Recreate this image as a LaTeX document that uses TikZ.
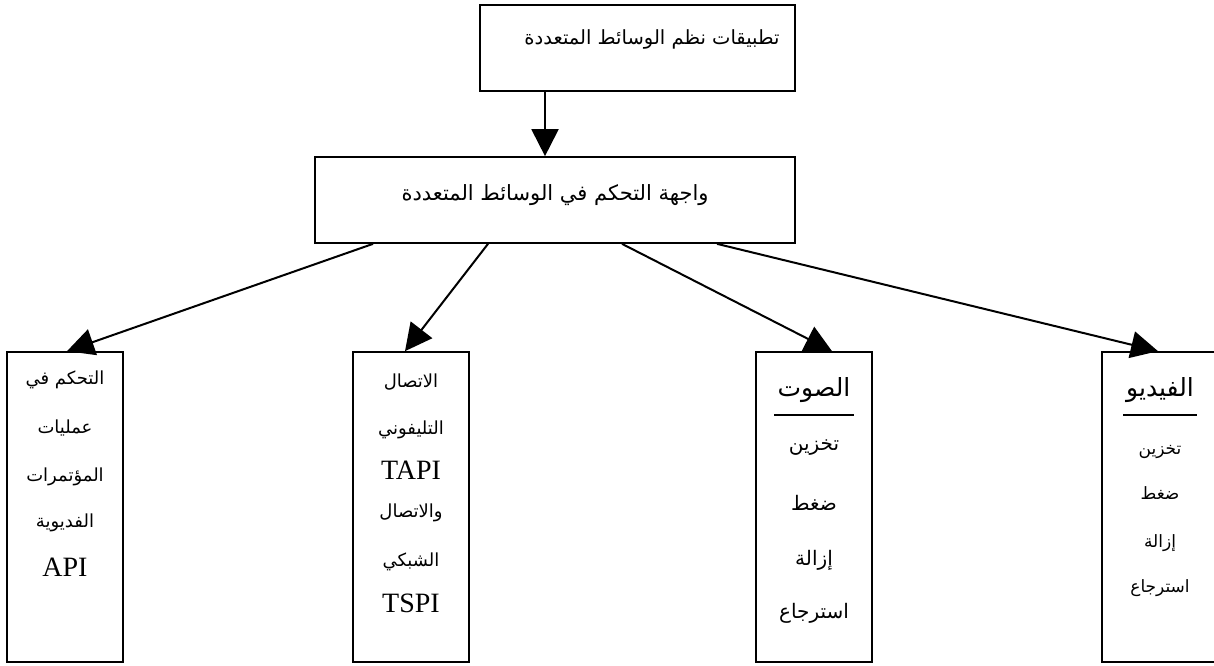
\documentclass[tikz,border=0pt]{standalone}
\usepackage{fontspec}
\setmainfont{Liberation Serif}
\newfontfamily\arabicfont[Script=Arabic]{DejaVu Sans}
\TeXXeTstate=1
\usetikzlibrary{arrows.meta}
\newcommand{\artx}[1]{{\arabicfont\beginR #1\endR}}
\begin{document}
\begin{tikzpicture}[x=1pt,y=-1pt,
  box/.style={draw, line width=1.7pt, inner sep=0pt, rectangle},
  conn/.style={line width=2pt, -{Triangle[length=27pt,width=27pt]}},
  txt/.style={inner sep=0pt, anchor=center},
  big/.style={txt, font=\fontsize{21}{24}\selectfont},
  topf/.style={txt, font=\fontsize{19.5}{23}\selectfont},
  head/.style={txt, font=\fontsize{25}{28}\selectfont},
  sza/.style={txt, font=\fontsize{18}{21}\selectfont},
  szb/.style={txt, font=\fontsize{18}{21}\selectfont},
  szc/.style={txt, font=\fontsize{20}{23}\selectfont},
  szd/.style={txt, font=\fontsize{17}{20}\selectfont},
  lat/.style={txt, font=\fontsize{28}{31}\selectfont}]
\useasboundingbox (0,0) rectangle (1214,665);
\clip (0,0) rectangle (1214,665);
% boxes
\node[box, minimum width=315pt, minimum height=86pt] (top) at (637.5,48) {};
\node[box, minimum width=480pt, minimum height=86pt] (mid) at (555,200) {};
\node[box, minimum width=116pt, minimum height=310pt] (b1) at (65,507) {};
\node[box, minimum width=116pt, minimum height=310pt] (b2) at (411,507) {};
\node[box, minimum width=116pt, minimum height=310pt] (b3) at (814,507) {};
\node[box, minimum width=116pt, minimum height=310pt] (b4) at (1160,507) {};
% texts
\node[topf] (ttop) at (652,39) {\artx{تطبيقات نظم الوسائط المتعددة}};
\node[big] (tmid) at (555,195) {\artx{واجهة التحكم في الوسائط المتعددة}};
% box 1
\node[sza] (b1a) at (65,380) {\artx{التحكم في}};
\node[sza] (b1b) at (65,428) {\artx{عمليات}};
\node[sza] (b1c) at (65,477) {\artx{المؤتمرات}};
\node[sza] (b1d) at (65,523) {\artx{الفديوية}};
\node[lat] (b1e) at (65,567) {API};
% box 2
\node[szb] (b2a) at (411,382) {\artx{الاتصال}};
\node[szb] (b2b) at (411,430) {\artx{التليفوني}};
\node[lat] (b2c) at (411,470) {TAPI};
\node[szb] (b2d) at (411,513) {\artx{والاتصال}};
\node[szb] (b2e) at (411,562) {\artx{الشبكي}};
\node[lat] (b2f) at (411,603) {TSPI};
% box 3
\node[head] (b3a) at (814,390) {\artx{الصوت}};
\draw[line width=1.8pt] (774,415) -- (854,415);
\node[szc] (b3b) at (814,448) {\artx{تخزين}};
\node[szc] (b3c) at (814,503) {\artx{ضغط}};
\node[szc] (b3d) at (814,560) {\artx{إزالة}};
\node[szc] (b3e) at (814,613) {\artx{استرجاع}};
% box 4
\node[head] (b4a) at (1160,390) {\artx{الفيديو}};
\draw[line width=1.8pt] (1123,415) -- (1197,415);
\node[szd] (b4b) at (1160,452) {\artx{تخزين}};
\node[szd] (b4c) at (1160,493) {\artx{ضغط}};
\node[szd] (b4d) at (1160,543) {\artx{إزالة}};
\node[szd] (b4e) at (1160,588) {\artx{استرجاع}};
% connectors
\draw[conn] ([xshift=-92.5pt]top.south) -- ([xshift=-10pt]mid.north);
\draw[conn] ([xshift=-182pt]mid.south) -- ([xshift=2pt]b1.north);
\draw[conn] ([xshift=-67pt]mid.south) -- ([xshift=-6pt]b2.north);
\draw[conn] ([xshift=67pt]mid.south) -- ([xshift=18pt]b3.north);
\draw[conn] ([xshift=162pt]mid.south) -- ([xshift=-2pt]b4.north);
\end{tikzpicture}
\end{document}
